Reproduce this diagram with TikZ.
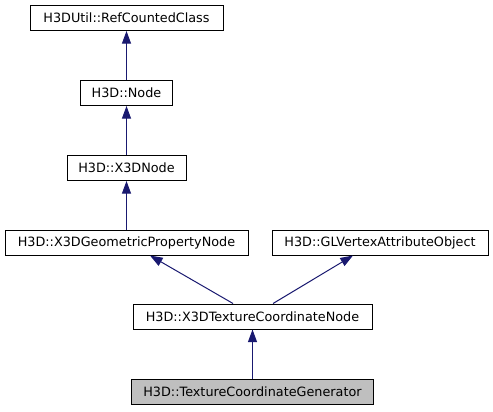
\documentclass[tikz,border=0pt]{standalone}
\usepackage{fontspec}
\setmainfont{DejaVu Sans}
\usetikzlibrary{arrows.meta}
\definecolor{edgecol}{HTML}{191970}
\definecolor{hl}{HTML}{BFBFBF}
\begin{document}
\begin{tikzpicture}[x=0.75pt,y=-0.75pt,
  cls/.style={draw=black,line width=0.75pt,fill=white,inner sep=0pt,minimum height=18.75pt,font=\fontsize{9.6}{11}\selectfont},
  edge/.style={draw=edgecol,line width=0.75pt,-{Triangle[length=9.5pt,width=6.8pt]}}]
\useasboundingbox (0,0) rectangle (493,411);
\node[cls,minimum width=144.75pt] (rc) at (126.5,18) {H3DUtil::RefCountedClass};
\node[cls,minimum width=69pt] (nd) at (126.5,93) {H3D::Node};
\node[cls,minimum width=89.25pt] (x3d) at (126.5,168) {H3D::X3DNode};
\node[cls,minimum width=182.25pt] (geom) at (126.5,242.5) {H3D::X3DGeometricPropertyNode};
\node[cls,minimum width=162pt] (glv) at (380,242.5) {H3D::GLVertexAttributeObject};
\node[cls,minimum width=179.25pt] (tcn) at (252.5,316.5) {H3D::X3DTextureCoordinateNode};
\node[cls,minimum width=181.5pt,fill=hl] (tcg) at (252.5,391.5) {H3D::TextureCoordinateGenerator};
\draw[edge] (nd.north) -- (rc.south);
\draw[edge] (x3d.north) -- (nd.south);
\draw[edge] (geom.north) -- (x3d.south);
\draw[edge] ([xshift=-14.6pt]tcn.north) -- ([xshift=17.6pt]geom.south);
\draw[edge] ([xshift=15.4pt]tcn.north) -- ([xshift=-20.25pt]glv.south);
\draw[edge] (tcg.north) -- (tcn.south);
\end{tikzpicture}
\end{document}
